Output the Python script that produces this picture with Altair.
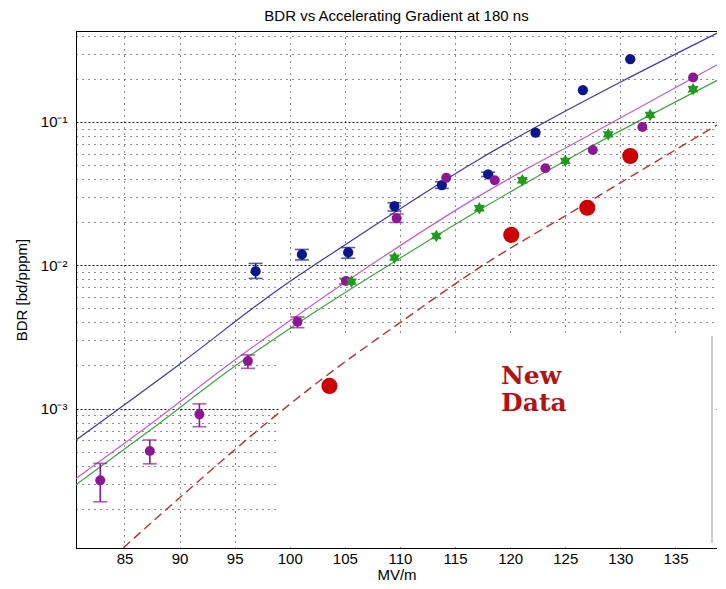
import altair as alt
import pandas as pd

# ---------------- data ----------------
blue_x = [96.9, 101.1, 105.3, 109.5, 113.8, 118.0, 122.3, 126.6, 130.9]
blue_y = [0.0091, 0.0119, 0.0123, 0.0259, 0.0363, 0.0431, 0.0842, 0.1665, 0.274]
blue_lo = [0.0081, 0.0109, 0.0112, 0.0239, 0.0344, 0.0416, None, None, None]
blue_hi = [0.0103, 0.0129, 0.0133, 0.0273, 0.0383, 0.0446, None, None, None]

mag_x = [82.8, 87.3, 91.8, 96.2, 100.7, 105.1, 109.7, 114.2, 118.6, 123.2, 127.5, 132.0, 136.6]
mag_y = [3.16e-4, 5.06e-4, 9.12e-4, 2.15e-3, 4.04e-3, 7.76e-3, 0.0213, 0.0408, 0.0392,
         0.0475, 0.0638, 0.0923, 0.204]
mag_lo = [2.24e-4, 4.12e-4, 7.48e-4, 1.91e-3, 3.67e-3, 7.4e-3, 0.0199,
          None, None, None, None, None, None]
mag_hi = [4.15e-4, 6.04e-4, 1.08e-3, 2.37e-3, 4.36e-3, 8.1e-3, 0.0228,
          None, None, None, None, None, None]

green_x = [105.6, 109.5, 113.3, 117.2, 121.1, 125.0, 128.9, 132.7, 136.6]
green_y = [7.69e-3, 0.0113, 0.0160, 0.0250, 0.0392, 0.0535, 0.0820, 0.112, 0.169]

red_x = [103.6, 120.1, 127.0, 130.9]
red_y = [1.44e-3, 0.0163, 0.0252, 0.0579]

# fitted curves
blue_fit_x = [80.6, 90.0, 99.0, 105.1, 117.2, 121.7, 130.2, 138.8]
blue_fit_y = [6.04e-4, 2.04e-3, 6.81e-3, 0.01403, 0.0550, 0.0865, 0.193, 0.417]

mag_fit_x = [80.6, 87.5, 95.1, 100.2, 108.1, 117.2, 121.7, 126.2, 138.8]
mag_fit_y = [3.26e-4, 7.94e-4, 2.21e-3, 4.20e-3, 0.01096, 0.0305, 0.0480, 0.0736, 0.251]

green_fit_x = [80.6, 87.5, 95.1, 100.8, 109.6, 117.2, 126.2, 138.8]
green_fit_y = [2.94e-4, 7.24e-4, 2.00e-3, 3.98e-3, 0.01072, 0.0243, 0.0603, 0.195]

red_fit_x = [84.9, 90.0, 98.1, 102.7, 110.2, 117.2, 126.2, 138.8]
red_fit_y = [1.07e-4, 2.39e-4, 8.18e-4, 1.56e-3, 4.08e-3, 9.62e-3, 0.0251, 0.0955]

x_ticks = [85, 90, 95, 100, 105, 110, 115, 120, 125, 130, 135]
y_bases = [0.0001, 0.001, 0.01, 0.1]
y_decades = [0.001, 0.01, 0.1]
y_decade_labels = ["10\u207b\u00b3", "10\u207b\u00b2", "10\u207b\u00b9"]
y_minor_mult = [1, 2, 3, 4, 5, 6, 7, 8, 9]

title_text = "BDR vs Accelerating Gradient at 180 ns"
x_title = "MV/m"
y_title = "BDR [bd/pppm]"
note_lines = ["New", "Data"]

# ---------------- styling ----------------
FONT = "Liberation Sans"
W, H = 641, 517
X_DOMAIN = [80.6, 138.77]
Y_DOMAIN = [1.066e-4, 0.431]

y_ticks = [m * b for b in y_bases for m in y_minor_mult]
y_ticks = [v for v in y_ticks if Y_DOMAIN[0] <= v <= Y_DOMAIN[1]]


def near(v):
    return f"(datum.value > {v * 0.99} && datum.value < {v * 1.01})"


label_expr = ""
for v, lab in zip(y_decades, y_decade_labels):
    label_expr += f"{near(v)} ? '{lab}' : "
label_expr += "''"
decade_test = " || ".join(near(v) for v in y_decades)

xs = alt.Scale(type="linear", domain=X_DOMAIN, nice=False, zero=False)
ys = alt.Scale(type="log", domain=Y_DOMAIN, nice=False)

x_axis = alt.Axis(values=x_ticks, grid=True, gridDash=[1, 5], gridColor="black",
                  gridOpacity=0.9, ticks=False, tickSize=0, labelPadding=3,
                  titlePadding=1, labelOverlap=False, labelFlush=False)
y_axis = alt.Axis(values=y_ticks, labelExpr=label_expr, grid=True,
                  gridDash={"condition": {"test": decade_test, "value": [2, 2]}, "value": [1, 5]},
                  gridColor="black", gridOpacity=0.9, ticks=False, tickSize=0,
                  labelPadding=9, labelOverlap=False, labelFlush=False,
                  titleX=-55, titleY=H / 2, titleBaseline="middle", titleAlign="center")


def X(f="x"):
    return alt.X(f"{f}:Q", scale=xs, axis=x_axis, title=x_title)


def Y(f="y"):
    return alt.Y(f"{f}:Q", scale=ys, axis=y_axis, title=y_title)


def df(x, y):
    return pd.DataFrame({"x": x, "y": y})


def err_df(x, lo, hi):
    rows = [(a, l, h) for a, l, h in zip(x, lo, hi) if l is not None]
    return pd.DataFrame(rows, columns=["x", "lo", "hi"])


layers = []

# white pasted-in patch in lower right (covers the grid there)
dummy = alt.Data(values=[{"a": 1}])
layers.append(alt.Chart(dummy).mark_rect(color="white").encode(
    x=alt.value(203), x2=alt.value(639), y=alt.value(303), y2=alt.value(516)))
layers.append(alt.Chart(dummy).mark_rule(color="#9a9a9a", strokeWidth=1).encode(
    x=alt.value(636), y=alt.value(305), y2=alt.value(512)))

# fitted lines
for fx, fy, col, dash, w in [
    (blue_fit_x, blue_fit_y, "#3a3a98", None, 1.2),
    (mag_fit_x, mag_fit_y, "#c35ec3", None, 1.2),
    (green_fit_x, green_fit_y, "#3fa33f", None, 1.2),
    (red_fit_x, red_fit_y, "#b3332d", [9, 5], 1.4),
]:
    kw = dict(color=col, strokeWidth=w, clip=True, interpolate="monotone")
    if dash:
        kw["strokeDash"] = dash
    layers.append(alt.Chart(df(fx, fy)).mark_line(**kw).encode(x=X(), y=Y()))

# error bars
for ex, lo, hi, col in [(blue_x, blue_lo, blue_hi, "#0c168c"),
                        (mag_x, mag_lo, mag_hi, "#8e1596")]:
    d = err_df(ex, lo, hi)
    layers.append(alt.Chart(d).mark_rule(color=col, strokeWidth=1.6).encode(
        x=X(), y=Y("lo"), y2=alt.Y2("hi:Q")))
    for f in ("lo", "hi"):
        layers.append(alt.Chart(d).mark_tick(color=col, orient="horizontal", size=14,
                                             thickness=1.6).encode(x=X(), y=Y(f)))

hexagram = ("M0,-1L0.289,-0.5L0.866,-0.5L0.577,0L0.866,0.5L0.289,0.5L0,1"
            "L-0.289,0.5L-0.866,0.5L-0.577,0L-0.866,-0.5L-0.289,-0.5Z")

# points
layers.append(alt.Chart(df(blue_x, blue_y)).mark_point(
    shape="circle", filled=True, size=105, color="#0c168c", opacity=1).encode(x=X(), y=Y()))
layers.append(alt.Chart(df(mag_x, mag_y)).mark_point(
    shape="circle", filled=True, size=100, color="#8e1596", opacity=1).encode(x=X(), y=Y()))
layers.append(alt.Chart(df(green_x, green_y)).mark_point(
    shape=hexagram, filled=True, size=160, color="#1e9a1e", opacity=1).encode(x=X(), y=Y()))
layers.append(alt.Chart(df(red_x, red_y)).mark_point(
    shape="circle", filled=True, size=260, color="#cc0000", opacity=1).encode(x=X(), y=Y()))

# annotation
layers.append(alt.Chart(dummy).mark_text(
    text=note_lines, font="DejaVu Serif", fontSize=25, fontWeight="bold",
    color="#b01414", align="left", baseline="alphabetic", lineHeight=27).encode(
    x=alt.value(425), y=alt.value(353)))

chart = alt.layer(*layers).properties(
    width=W, height=H,
    title=alt.TitleParams(title_text, anchor="middle", fontSize=15, font=FONT,
                          fontWeight="normal", color="black", offset=5),
    padding={"left": 6, "top": 0, "right": 0, "bottom": 0},
).configure_view(
    stroke="black", strokeWidth=1
).configure_axis(
    domainColor="black", domainWidth=1, labelFont=FONT, titleFont=FONT,
    labelFontSize=15, titleFontSize=15, titleFontWeight="normal",
    labelColor="black", titleColor="black"
)

chart.save("out.html", embed_options={"renderer": "svg", "actions": False})
